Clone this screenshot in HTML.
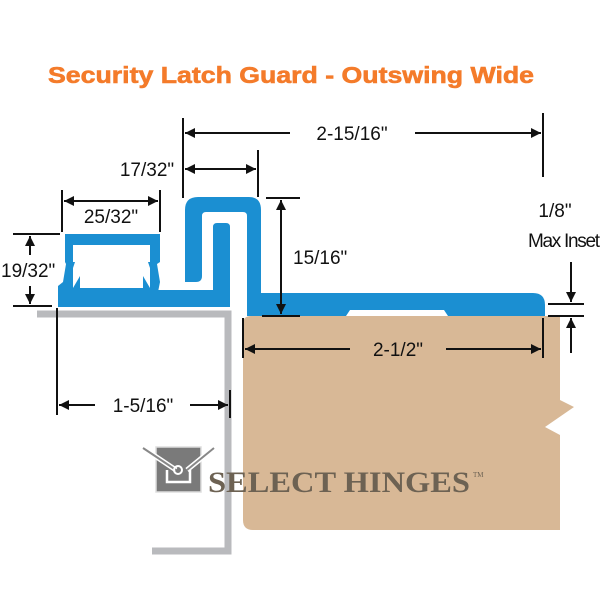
<!DOCTYPE html>
<html><head><meta charset="utf-8"><style>
html,body{margin:0;padding:0;background:#fff;width:600px;height:600px;overflow:hidden}
svg{display:block}
</style></head><body>
<svg width="600" height="600" viewBox="0 0 600 600" xmlns="http://www.w3.org/2000/svg" font-family="Liberation Sans, sans-serif">
<defs>
<marker id="a" viewBox="0 0 10 10" refX="10" refY="5" markerWidth="14" markerHeight="10" orient="auto-start-reverse" markerUnits="userSpaceOnUse"><path d="M0,0 L10,5 L0,10 z" fill="#111"/></marker>
</defs>
<text x="48" y="83" font-size="23" font-weight="bold" fill="#f47b2a" stroke="#f47b2a" stroke-width="0.6" textLength="486" lengthAdjust="spacingAndGlyphs">Security Latch Guard - Outswing Wide</text>

<!-- door -->
<path d="M243,324 Q243,316 251,316 L560,316 L560,400 L574,407 L545,427 L560,435 L560,530 L253,530 Q243,530 243,520 Z" fill="#d8b896"/>

<!-- frame -->
<path d="M37,314 L228,314 L228,551 L152,551" fill="none" stroke="#b9babd" stroke-width="7"/>

<!-- blue profile -->
<g fill="#1b8fd2">
<path d="M65,234 L160,234 L160,262 L157,264 L160,282 L158,292 L58,292 L58,286 L63,282 L66,264 L65,262 Z"/>
<path d="M58,290 L213,290 L213,227 Q213,223 217,223 L226,223 Q230,223 230,227 L230,307 L58,307 Z"/>
<path d="M185,282 L185,210 Q185,197 198,197 L249,197 Q261,197 261,210 L261,293 L533,293 Q545,293 545,305 L545,316 L448,316 L444,310 L350,310 L346,316 L247,316 L247,216 Q247,212 243,212 L206,212 Q202,212 202,216 L202,276 Q202,282 196,282 Z"/>
</g>
<path d="M73,245 L150,245 L150,262 L148,262 L150,268 L150,288 L143,276 L143,262 L80,262 L80,276 L73,288 L73,268 L75,262 L73,262 Z" fill="#fff"/>
<rect x="80" y="262" width="63" height="26" fill="#fff"/>

<!-- dimension lines -->
<g stroke="#111" stroke-width="2" fill="none">
<line x1="183" y1="118" x2="183" y2="198"/>
<line x1="543" y1="113" x2="543" y2="177"/>
<line x1="185" y1="133" x2="290" y2="133" marker-start="url(#a)"/>
<line x1="415" y1="133" x2="541" y2="133" marker-end="url(#a)"/>
<line x1="258" y1="150" x2="258" y2="197"/>
<line x1="185" y1="169" x2="256" y2="169" marker-start="url(#a)" marker-end="url(#a)"/>
<line x1="62" y1="190" x2="62" y2="232"/>
<line x1="160" y1="190" x2="160" y2="232"/>
<line x1="64" y1="201" x2="158" y2="201" marker-start="url(#a)" marker-end="url(#a)"/>
<line x1="13" y1="234" x2="60" y2="234"/>
<line x1="13" y1="306" x2="52" y2="306"/>
<line x1="30" y1="236" x2="30" y2="255" marker-start="url(#a)"/>
<line x1="30" y1="286" x2="30" y2="304" marker-end="url(#a)"/>
<line x1="266" y1="198" x2="300" y2="198"/>
<line x1="262" y1="316" x2="300" y2="316"/>
<line x1="281" y1="200" x2="281" y2="314" marker-start="url(#a)" marker-end="url(#a)"/>
<line x1="243" y1="318" x2="243" y2="358"/>
<line x1="543" y1="318" x2="543" y2="358"/>
<line x1="245" y1="349" x2="350" y2="349" marker-start="url(#a)"/>
<line x1="446" y1="349" x2="541" y2="349" marker-end="url(#a)"/>
<line x1="548" y1="304" x2="584" y2="304"/>
<line x1="548" y1="316" x2="584" y2="316"/>
<line x1="571" y1="262" x2="571" y2="302" marker-end="url(#a)"/>
<line x1="571" y1="353" x2="571" y2="318" marker-end="url(#a)"/>
<line x1="57" y1="308" x2="57" y2="415"/>
<line x1="230" y1="390" x2="230" y2="418"/>
<line x1="59" y1="405" x2="95" y2="405" marker-start="url(#a)"/>
<line x1="190" y1="405" x2="228" y2="405" marker-end="url(#a)"/>
</g>
<g font-size="19" fill="#111">
<text x="352" y="140" text-anchor="middle">2-15/16"</text>
<text x="147" y="176" text-anchor="middle">17/32"</text>
<text x="111" y="223" text-anchor="middle">25/32"</text>
<text x="1" y="277">19/32"</text>
<text x="293" y="264">15/16"</text>
<text x="398" y="356" text-anchor="middle">2-1/2"</text>
<text x="143" y="412" text-anchor="middle">1-5/16"</text>
<text x="555" y="217" text-anchor="middle">1/8"</text>
<text x="564" y="247" text-anchor="middle" textLength="72">Max Inset</text>
</g>

<!-- logo -->
<rect x="156" y="447" width="45" height="45" fill="#7a7a7a" stroke="#ddd" stroke-width="1.5"/>
<path d="M143,448 L176,470 M214,448 L187,470" stroke="#fff" stroke-width="5"/>
<path d="M143,448 L176,470 M214,448 L187,470" stroke="#888" stroke-width="2"/>
<path d="M167,470 L167,482 L190,482 L190,470" fill="none" stroke="#fff" stroke-width="2.5"/>
<circle cx="178" cy="470" r="4" fill="none" stroke="#fff" stroke-width="2"/>
<text x="208" y="492" style="font-family:'Liberation Serif',serif" font-weight="bold" font-size="30" fill="#6d6253" textLength="262" lengthAdjust="spacingAndGlyphs">SELECT HINGES</text>
<text x="473" y="477" style="font-family:'Liberation Serif',serif" font-size="7" fill="#6d6253">TM</text>
</svg>
</body></html>
